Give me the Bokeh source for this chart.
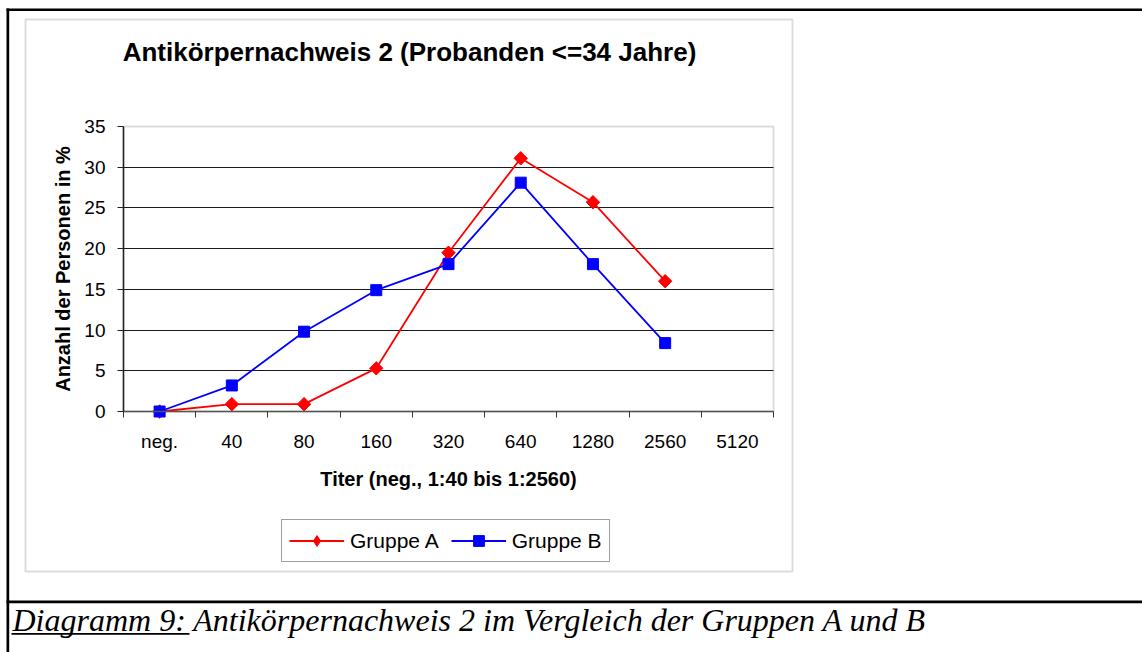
import math
from bokeh.plotting import figure
from bokeh.models import (Range1d, FixedTicker, LinearAxis, Label, BoxAnnotation,
                          Legend, LegendItem, Grid)
from bokeh.embed import file_html
from bokeh.resources import INLINE

# ---------------- data ----------------
categories = ["neg.", "40", "80", "160", "320", "640", "1280", "2560", "5120"]
gruppe_a = [0, 0.9, 0.9, 5.3, 19.5, 31.1, 25.7, 16.0]
gruppe_b = [0, 3.2, 9.8, 14.9, 18.1, 28.1, 18.1, 8.4]
y_ticks = [0, 5, 10, 15, 20, 25, 30, 35]
title_text = "Antikörpernachweis 2 (Probanden <=34 Jahre)"
x_label = "Titer (neg., 1:40 bis 1:2560)"
y_label = "Anzahl der Personen in %"
caption = "Diagramm 9: Antikörpernachweis 2 im Vergleich der Gruppen A und B"
series_names = ["Gruppe A", "Gruppe B"]

# ---------------- layout (pixels) ----------------
W, H = 1142, 652
PL, PR, PT, PB = 123, 773, 126, 411      # plot area
FONT = "Liberation Sans"
RED, BLUE = "#ff0000", "#0000ff"

n = len(categories)
xs = list(range(len(gruppe_a)))
ymin, ymax = y_ticks[0], y_ticks[-1]

ppx = (PR - PL) / n
ppy = (PB - PT) / (ymax - ymin)
x_range = Range1d(-0.5 - PL / ppx, n - 0.5 + (W - PR) / ppx)
y_range = Range1d(ymin - (H - PB) / ppy, ymin + PB / ppy)

p = figure(width=W, height=H, output_backend="svg", toolbar_location=None,
           x_range=x_range, y_range=y_range, min_border=0,
           x_axis_type=None, y_axis_type=None)
p.background_fill_color = "white"
p.border_fill_color = "white"
p.outline_line_color = None

# page-pixel coordinate system for decorations
p.extra_x_ranges = {"px": Range1d(0, W)}
p.extra_y_ranges = {"py": Range1d(H, 0)}

# plot-area border (grey) and grid
p.add_layout(BoxAnnotation(left=-0.5, right=n - 0.5, bottom=ymin, top=ymax,
                           fill_alpha=0, line_color="#8a8a8a", line_width=2,
                           level="underlay"))
p.add_layout(Grid(dimension=1, ticker=FixedTicker(ticks=y_ticks[1:-1]),
                  cross_bounds=(-0.5, n - 0.5),
                  grid_line_color="#1a1a1a", grid_line_width=1))

# x axis: labels at category centres, ticks at boundaries
xaxis = LinearAxis(fixed_location=ymin, bounds=(-0.5, n - 0.5),
                   ticker=FixedTicker(ticks=list(range(n)),
                                      minor_ticks=[i - 0.5 for i in range(n + 1)]),
                   major_label_overrides={i: c for i, c in enumerate(categories)})
xaxis.major_tick_line_color = None
xaxis.major_tick_out = 0
xaxis.major_tick_in = 0
xaxis.minor_tick_out = 6
xaxis.minor_tick_in = 0
xaxis.minor_tick_line_color = "#333333"
xaxis.axis_line_color = "#555555"
xaxis.axis_line_width = 1.5
xaxis.major_label_text_font = FONT
xaxis.major_label_text_font_size = "19px"
xaxis.major_label_text_color = "black"
xaxis.major_label_standoff = 13
xaxis.axis_label = x_label
xaxis.axis_label_text_font = FONT
xaxis.axis_label_text_font_style = "bold"
xaxis.axis_label_text_font_size = "20px"
xaxis.axis_label_text_color = "black"
xaxis.axis_label_standoff = 13
p.add_layout(xaxis, "below")

yaxis = LinearAxis(fixed_location=-0.5, bounds=(ymin, ymax),
                   ticker=FixedTicker(ticks=y_ticks))
yaxis.major_tick_out = 6
yaxis.major_tick_in = 0
yaxis.minor_tick_line_color = None
yaxis.major_tick_line_color = "#222222"
yaxis.axis_line_color = "#222222"
yaxis.axis_line_width = 1.5
yaxis.major_label_text_font = FONT
yaxis.major_label_text_font_size = "19px"
yaxis.major_label_text_color = "black"
yaxis.major_label_standoff = 12
yaxis.axis_label = y_label
yaxis.axis_label_text_font = FONT
yaxis.axis_label_text_font_style = "bold"
yaxis.axis_label_text_font_size = "20px"
yaxis.axis_label_text_color = "black"
yaxis.axis_label_standoff = 7
p.add_layout(yaxis, "left")

# series
ra = p.line(xs, gruppe_a, line_color=RED, line_width=1.8)
# diamond symbol (used by the legend) under a rotated square (the plotted diamond)
la = p.scatter(xs, gruppe_a, marker="diamond", size=12, fill_color=RED, line_color=RED)
sa = p.scatter(xs, gruppe_a, marker="square", angle=math.pi / 4, size=9.5,
               fill_color=RED, line_color=RED)
rb = p.line(xs, gruppe_b, line_color=BLUE, line_width=1.8)
sb = p.scatter(xs, gruppe_b, marker="square", size=11,
               fill_color=BLUE, line_color=BLUE)

LEG_TOP, LEG_LEFT, LEG_H = 521, 281, 41
legend = Legend(items=[LegendItem(label=series_names[0], renderers=[ra, la]),
                       LegendItem(label=series_names[1], renderers=[rb, sb])],
                location=(LEG_LEFT, H - LEG_TOP - LEG_H), orientation="horizontal",
                glyph_width=55, glyph_height=27, label_height=27,
                label_standoff=6, spacing=12, padding=7, margin=0,
                border_line_color="#404040", border_line_width=1,
                background_fill_color="white",
                label_text_font=FONT, label_text_font_size="21px",
                label_text_color="black")
p.add_layout(legend)

# decorations (page pixel coordinates)
def box(**kw):
    b = BoxAnnotation(x_range_name="px", y_range_name="py", **kw)
    p.add_layout(b)
    return b

box(left=25, right=792, top=19, bottom=571, fill_alpha=0,
    line_color="#8c8c8c", line_width=2)
box(left=6, right=8.7, top=8, bottom=H + 10, fill_color="black", fill_alpha=1, line_alpha=0)
box(left=6, right=W + 10, top=8, bottom=10.6, fill_color="black", fill_alpha=1, line_alpha=0)
box(left=6, right=W + 10, top=600, bottom=602.7, fill_color="black", fill_alpha=1, line_alpha=0)
box(left=11, right=189, top=632.5, bottom=634.2, fill_color="black", fill_alpha=1, line_alpha=0)

p.add_layout(Label(x=409, y=51, x_range_name="px", y_range_name="py", text=title_text,
                   text_align="center", text_baseline="middle", text_font=FONT,
                   text_font_style="bold", text_font_size="26px", text_color="black"))
p.add_layout(Label(x=12, y=619, x_range_name="px", y_range_name="py", text=caption,
                   text_align="left", text_baseline="middle", text_font="Liberation Serif",
                   text_font_style="italic", text_font_size="32px", text_color="black"))

open("out.html", "w").write(file_html(p, INLINE))
